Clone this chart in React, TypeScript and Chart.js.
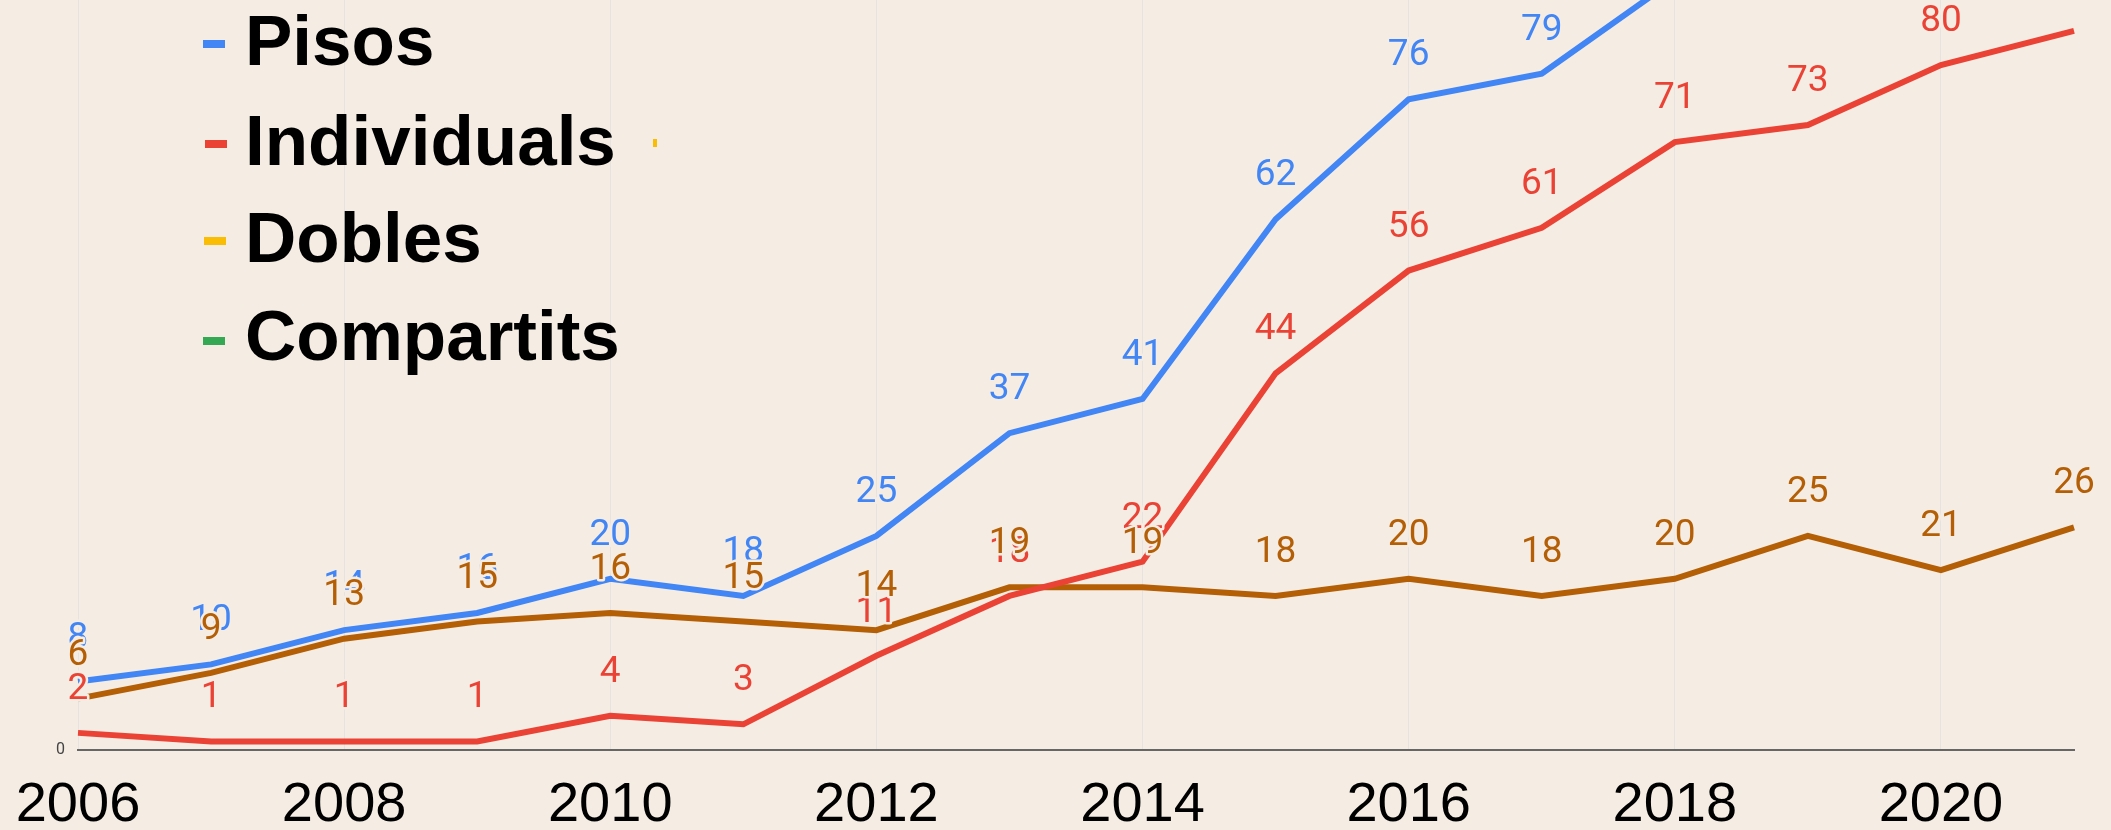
import React, { useEffect, useRef } from 'react';
import { Chart, registerables } from 'chart.js';

Chart.register(...registerables);

const years = ['2006', '2007', '2008', '2009', '2010', '2011', '2012', '2013', '2014', '2015', '2016', '2017', '2018', '2019', '2020', '2021'];
const pisos = [8, 10, 14, 16, 20, 18, 25, 37, 41, 62, 76, 79, 90, 95, 99, 104];
const individuals = [2, 1, 1, 1, 4, 3, 11, 18, 22, 44, 56, 61, 71, 73, 80, 84];
const dobles = [6, 9, 13, 15, 16, 15, 14, 19, 19, 18, 20, 18, 20, 25, 21, 26];
const compartits: number[] = [];
const seriesNames = ['Pisos', 'Individuals', 'Dobles', 'Compartits'];
const lineColors = ['#4285F4', '#EA4335', '#B45F06', '#34A853'];
const legendColors = ['#4285F4', '#EA4335', '#FBBC04', '#34A853'];
const xTickLabels = years.map((y, i) => (i % 2 === 0 ? y : ''));
const yTickValues = [0];

const BG = '#F5EDE4';
const W = 2111;
const H = 830;

const bgPlugin = {
  id: 'bg',
  beforeDraw(chart: any) {
    const c = chart.ctx;
    c.save();
    c.fillStyle = BG;
    c.fillRect(0, 0, chart.width, chart.height);
    c.restore();
  },
};

const dataLabelPlugin = {
  id: 'dataLabels',
  afterDatasetsDraw(chart: any) {
    const c = chart.ctx;
    c.save();
    c.font = '37px Roboto';
    c.textAlign = 'center';
    c.textBaseline = 'alphabetic';
    c.lineJoin = 'round';
    chart.data.datasets.forEach((ds: any, i: number) => {
      const meta = chart.getDatasetMeta(i);
      meta.data.forEach((pt: any, j: number) => {
        const v = ds.data[j];
        if (v == null) return;
        const x = pt.x;
        const y = pt.y - 34;
        c.lineWidth = 5;
        c.strokeStyle = BG;
        c.strokeText(String(v), x, y);
        c.fillStyle = ds.borderColor;
        c.fillText(String(v), x, y);
      });
    });
    c.restore();
  },
};

const legendPlugin = {
  id: 'customLegend',
  afterDraw(chart: any) {
    const c = chart.ctx;
    c.save();
    const markerY = [40, 140, 237, 337];
    const markerX = [203, 205, 204, 203];
    const baseY = [65, 165, 262, 360];
    c.font = 'bold 71px "Liberation Sans", Arial, sans-serif';
    c.textAlign = 'left';
    c.textBaseline = 'alphabetic';
    seriesNames.forEach((name, i) => {
      c.fillStyle = legendColors[i];
      c.fillRect(markerX[i], markerY[i], 22, 8);
      c.fillStyle = '#000000';
      c.fillText(name, 245, baseY[i]);
    });
    c.fillStyle = legendColors[2];
    c.fillRect(653, 139, 4, 8);
    c.restore();
  },
};

export default function App() {
  const ref = useRef<HTMLCanvasElement | null>(null);
  useEffect(() => {
    document.body.style.margin = '0';
    document.body.style.overflow = 'hidden';
    document.body.style.background = BG;
    if (!ref.current) return;
    const chart = new Chart(ref.current, {
      type: 'line',
      data: {
        labels: years,
        datasets: [
          { label: seriesNames[0], data: pisos, borderColor: lineColors[0] },
          { label: seriesNames[1], data: individuals, borderColor: lineColors[1] },
          { label: seriesNames[2], data: dobles, borderColor: lineColors[2] },
          { label: seriesNames[3], data: compartits, borderColor: lineColors[3] },
        ].map((d) => ({ ...d, backgroundColor: d.borderColor, borderWidth: 6, pointRadius: 0, tension: 0, fill: false })),
      },
      options: {
        responsive: false,
        animation: false,
        devicePixelRatio: 1,
        layout: { padding: { left: 0, right: 37, top: 0, bottom: 0 } },
        plugins: { legend: { display: false }, tooltip: { enabled: false }, title: { display: false } },
        scales: {
          x: {
            type: 'category',
            grid: {
              display: true,
              drawTicks: false,
              color: (ctx: any) => (ctx.index % 2 === 0 ? 'rgba(200,205,215,0.35)' : 'rgba(0,0,0,0)'),
              lineWidth: 1,
            },
            border: { display: true, color: '#666666', width: 2 },
            ticks: {
              autoSkip: false,
              maxRotation: 0,
              minRotation: 0,
              padding: 22,
              color: '#000000',
              font: { family: '"Liberation Sans", Arial, sans-serif', size: 56 },
              callback: (_v: any, i: number) => xTickLabels[i],
            },
            afterFit: (s: any) => {
              s.height = 80;
              s.paddingLeft = 0;
              s.paddingRight = 0;
            },
          },
          y: {
            min: 0,
            max: 87.6,
            grid: { display: false, drawTicks: false },
            border: { display: false },
            afterBuildTicks: (s: any) => {
              s.ticks = yTickValues.map((v) => ({ value: v }));
            },
            ticks: {
              padding: 13,
              color: '#444444',
              font: { family: 'Roboto', size: 16 },
              callback: (v: any) => String(v),
            },
            afterFit: (s: any) => {
              s.width = 78;
              s.paddingTop = 0;
              s.paddingBottom = 0;
            },
          },
        },
      },
      plugins: [bgPlugin, dataLabelPlugin, legendPlugin],
    } as any);
    return () => chart.destroy();
  }, []);
  return <canvas ref={ref} width={W} height={H} style={{ display: 'block', width: W, height: H }} />;
}
